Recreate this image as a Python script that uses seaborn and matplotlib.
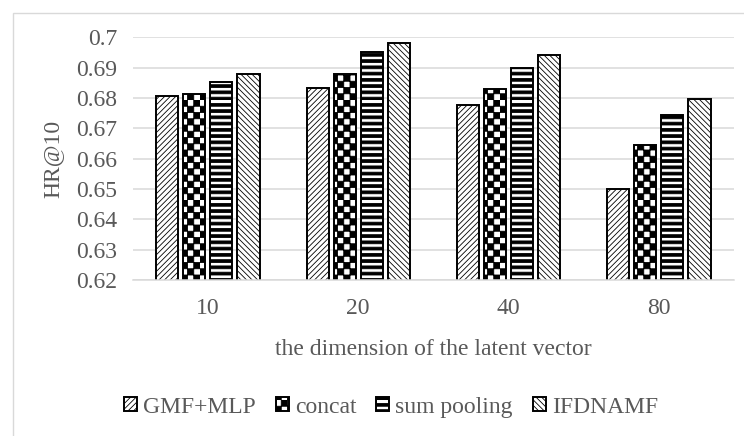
import warnings
warnings.filterwarnings("ignore")
import numpy as np
import pandas as pd
import matplotlib
matplotlib.use("Agg")
import matplotlib.pyplot as plt
import matplotlib.hatch as mhatch
from matplotlib.path import Path
from matplotlib.patches import Rectangle
import seaborn as sns

# ---------------- data ----------------
dims = ["10", "20", "40", "80"]
methods = ["GMF+MLP", "concat", "sum pooling", "IFDNAMF"]
gmf_mlp = [0.6808, 0.6834, 0.6776, 0.6499]
concat = [0.6814, 0.6878, 0.6831, 0.6644]
sum_pooling = [0.6852, 0.6953, 0.6898, 0.6743]
ifdnamf = [0.6880, 0.6980, 0.6941, 0.6798]
yticks = [0.62, 0.63, 0.64, 0.65, 0.66, 0.67, 0.68, 0.69, 0.70]

series = [gmf_mlp, concat, sum_pooling, ifdnamf]
df = pd.DataFrame({
    "dim": [d for s in series for d in dims],
    "method": [m for m, s in zip(methods, series) for _ in s],
    "HR": [v for s in series for v in s],
})

# ---------------- custom filled hatches (checkerboard 'c', stripes 's') ----------------
class _FilledHatch(mhatch.HatchPatternBase):
    def __init__(self, hatch, density):
        self.rects = []
        if 'c' in hatch:
            n = 16
            s = 1.0 / n
            for i in range(n):
                for j in range(n):
                    if (i + j) % 2 == 0:
                        self.rects.append((i * s, j * s, s, s))
        elif 's' in hatch:
            n = 16
            s = 1.0 / n
            for j in range(n):
                self.rects.append((-0.05, j * s, 1.1, s * 0.45))
        self.num_vertices = 5 * len(self.rects)

    def set_vertices_and_codes(self, vertices, codes):
        for k, (x, y, w, h) in enumerate(self.rects):
            vertices[5 * k:5 * k + 5] = [(x, y), (x + w, y), (x + w, y + h), (x, y + h), (x, y)]
            codes[5 * k] = Path.MOVETO
            codes[5 * k + 1:5 * k + 4] = Path.LINETO
            codes[5 * k + 4] = Path.CLOSEPOLY

mhatch._hatch_types.append(_FilledHatch)

# ---------------- style ----------------
sns.set_style("white")
plt.rcParams["font.family"] = ["Liberation Serif", "DejaVu Serif"]
plt.rcParams["hatch.linewidth"] = 0.6
TXT = "#595959"
GRID = "#d9d9d9"
FS = 17

fig = plt.figure(figsize=(7.44, 4.36), dpi=100)
ax = fig.add_axes([132.7 / 744, 1 - 280 / 436, (734 - 132.7) / 744, (280 - 37.3) / 436])

sns.barplot(data=df, x="dim", y="HR", hue="method", order=dims, hue_order=methods,
            palette=["white"] * 4, edgecolor="black", linewidth=1.4,
            width=0.72, gap=0.18, legend=False, ax=ax, errorbar=None)

hatches = ["//////", "c", "s", "\\\\\\\\\\\\"]
for cont, h in zip(ax.containers, hatches):
    for p in cont.patches:
        p.set_hatch(h)
        p.set_edgecolor("black")

ax.set_ylim(0.62, 0.70)
ax.set_yticks(yticks)
ax.set_yticklabels([f"{v:g}" for v in yticks])
ax.yaxis.grid(True, color=GRID, linewidth=1.1)
ax.set_axisbelow(True)
for s in ["left", "right", "top"]:
    ax.spines[s].set_visible(False)
ax.spines["bottom"].set_color(GRID)
ax.spines["bottom"].set_linewidth(1.1)
ax.tick_params(axis="y", length=0, pad=11, labelsize=FS, labelcolor=TXT)
ax.tick_params(axis="x", length=0, pad=13, labelsize=FS, labelcolor=TXT)

ax.set_xlabel("the dimension of the latent vector", fontsize=FS, color=TXT)
ax.xaxis.set_label_coords(0.5, -0.245)
ax.set_ylabel("HR@10", fontsize=FS, color=TXT)
ax.yaxis.set_label_coords(-0.115, 0.5)

handles = [cont.patches[0] for cont in ax.containers]
leg = ax.legend(handles, methods, loc="center", ncol=4, frameon=False,
                bbox_to_anchor=(391 / 744, 1 - 407 / 436), bbox_transform=fig.transFigure,
                fontsize=FS, handlelength=0.55, handleheight=0.55, handletextpad=0.25,
                columnspacing=0.85, borderpad=0, borderaxespad=0)
for t in leg.get_texts():
    t.set_color(TXT)

# outer chart-area frame
fig.patches.append(Rectangle((13 / 744, -0.1), 1.2, 1 - 13 / 436 + 0.1,
                             transform=fig.transFigure, fill=False,
                             edgecolor=GRID, linewidth=1.0, zorder=0))

fig.savefig("out.png", dpi=100)
